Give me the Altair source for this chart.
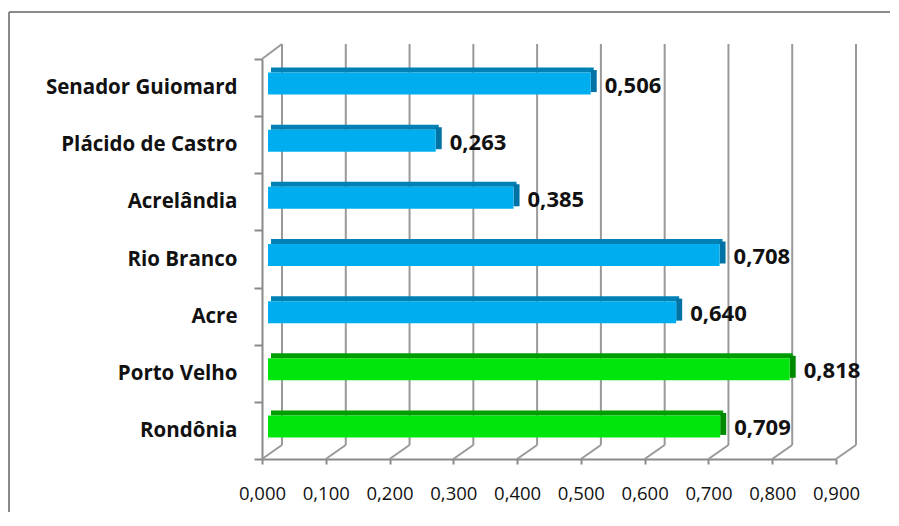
import altair as alt
import pandas as pd

categories = ["Senador Guiomard", "Plácido de Castro", "Acrelândia", "Rio Branco",
              "Acre", "Porto Velho", "Rondônia"]
values = [0.506, 0.263, 0.385, 0.708, 0.640, 0.818, 0.709]
groups = ["Acre", "Acre", "Acre", "Acre", "Acre", "Rondônia", "Rondônia"]
tick_values = [0.0, 0.1, 0.2, 0.3, 0.4, 0.5, 0.6, 0.7, 0.8, 0.9]

FONT = "Open Sans"
front_colors = ["#00AEEF", "#00E60C"]
dark_colors = ["#0080B4", "#009C00"]
side_colors = ["#0072A4", "#008A00"]

df = pd.DataFrame({"cat": categories, "val": values, "grp": groups})
ticks_df = pd.DataFrame({"t": tick_values})

xscale = alt.Scale(domain=[0, 0.9], nice=False, zero=False)
yscale = alt.Scale(domain=categories, paddingInner=0, paddingOuter=0)
xaxis = alt.Axis(values=tick_values, labelExpr="replace(format(datum.value, '.3f'), '.', ',')",
                 title=None, grid=False)
yaxis = alt.Axis(title=None, grid=False)

base = alt.Chart(df)
one = pd.DataFrame({"a": [0]})

# Decorative chart-area border (top and left edges)
border_top = alt.Chart(one).mark_rule(stroke="#8a8a8a", strokeWidth=2).encode(
    x=alt.value(-253), x2=alt.value(640), y=alt.value(-47))
border_left = alt.Chart(one).mark_rule(stroke="#8a8a8a", strokeWidth=2).encode(
    x=alt.value(-253), y=alt.value(-47), y2=alt.value(480))

# back-wall gridlines
grid = alt.Chart(ticks_df).mark_rule(stroke="#999999", strokeWidth=2, xOffset=20).encode(
    x=alt.X("t:Q", scale=xscale, axis=xaxis),
    y=alt.value(-15), y2=alt.value(386),
)
# floor diagonals
floor = alt.Chart(ticks_df).mark_rule(stroke="#999999", strokeWidth=2, x2Offset=20).encode(
    x=alt.X("t:Q", scale=xscale, axis=xaxis),
    x2="t:Q",
    y=alt.value(400), y2=alt.value(386),
)
# top-left wall diagonal
wall = alt.Chart(pd.DataFrame({"t": [0.0]})).mark_rule(stroke="#999999", strokeWidth=2, x2Offset=20).encode(
    x=alt.X("t:Q", scale=xscale, axis=xaxis),
    x2="t:Q",
    y=alt.value(0), y2=alt.value(-15),
)

ycat = alt.Y("cat:N", scale=yscale, sort=categories, axis=yaxis)

top_face = base.mark_bar(size=5, yOffset=-17.5, xOffset=9, x2Offset=9).encode(
    x=alt.X("zero:Q", scale=xscale, axis=xaxis), x2="val:Q", y=ycat,
    color=alt.Color("grp:N", scale=alt.Scale(domain=["Acre", "Rondônia"], range=dark_colors), legend=None),
).transform_calculate(zero="0")

side_face = base.mark_bar(size=22, yOffset=-6.5, xOffset=6, x2Offset=12).encode(
    x=alt.X("val:Q", scale=xscale, axis=xaxis), x2="val:Q", y=ycat,
    color=alt.Color("grp:N", scale=alt.Scale(domain=["Acre", "Rondônia"], range=side_colors), legend=None),
)

front = base.mark_bar(size=22, yOffset=-4, xOffset=6, x2Offset=6).encode(
    x=alt.X("zero:Q", scale=xscale, axis=xaxis), x2="val:Q", y=ycat,
    color=alt.Color("grp:N", scale=alt.Scale(domain=["Acre", "Rondônia"], range=front_colors), legend=None),
).transform_calculate(zero="0")

labels = base.mark_text(align="left", baseline="middle", dx=20, dy=-2,
                        font=FONT, fontSize=22, fontWeight="bold", color="#111111").encode(
    x=alt.X("val:Q", scale=xscale, axis=xaxis), y=ycat,
    text="lab:N",
).transform_calculate(lab="replace(format(datum.val, '.3f'), '.', ',')")

chart = alt.layer(border_top, border_left, grid, floor, wall, top_face, side_face, front, labels).resolve_scale(
    color="independent"
).properties(
    width=574, height=400,
    autosize=alt.AutoSizeParams(type="none"),
    padding={"left": 254, "top": 51, "right": 54, "bottom": 53},
).configure_view(stroke=None).configure_axisX(
    domainColor="#8a8a8a", domainWidth=2, tickColor="#8a8a8a", tickWidth=2, tickSize=5,
    labelFont=FONT, labelFontSize=18.5, labelColor="#111111", labelPadding=20,
    labelFlush=False, labelOverlap=False,
).configure_axisY(
    tickBand="extent", domainColor="#8a8a8a", domainWidth=2, tickColor="#8a8a8a", tickWidth=2,
    tickSize=8, labelFont=FONT, labelFontSize=20.5, labelFontWeight="bold", labelColor="#111111",
    labelPadding=17, labelLimit=300,
)

chart.save("out.html", embed_options={"renderer": "svg", "actions": False})
